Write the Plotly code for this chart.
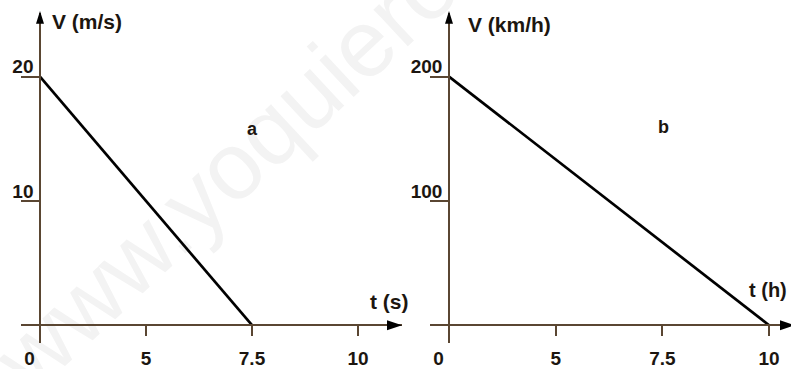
import plotly.graph_objects as go

W, H = 791, 369

# tick marks are equally spaced in the original drawing
tick_values = [0, 5, 7.5, 10]
tick_text = ["0\u00a0\u00a0\u00a0\u00a0", "5", "7.5", "10"]

t_a = [0, 7.5]
v_a = [20, 0]
yticks_a = [10, 20]

t_b = [0, 10]
v_b = [200, 0]
yticks_b = [100, 200]

AXIS = "#5a4632"
INK = "#1c1610"
FONT = "Liberation Sans, Arial, sans-serif"


def px(x):
    return x / W


def py(y):
    return 1 - y / H


def tri(points):
    return "M " + " L ".join("%.5f,%.5f" % (px(x), py(y)) for x, y in points) + " Z"


fig = go.Figure()
fig.add_trace(go.Scatter(x=[tick_values.index(t) for t in t_a], y=v_a, mode="lines",
                         line=dict(color="black", width=2.7), xaxis="x", yaxis="y"))
fig.add_trace(go.Scatter(x=[tick_values.index(t) for t in t_b], y=v_b, mode="lines",
                         line=dict(color="black", width=2.7), xaxis="x2", yaxis="y2"))

tickfont = dict(family=FONT, size=19, color=INK, weight="bold")
xcommon = dict(tickvals=list(range(len(tick_values))), ticktext=tick_text,
               ticks="outside", ticklen=10, tickwidth=1.5, tickcolor=AXIS,
               showline=True, linecolor=AXIS, linewidth=1.5, showgrid=False,
               zeroline=False, tickfont=tickfont, anchor="free", position=py(327),
               ticklabelstandoff=6, fixedrange=True)
ycommon = dict(ticks="outside", ticklen=18, tickwidth=1.5, tickcolor=AXIS,
               showline=True, linecolor=AXIS, linewidth=1.5, showgrid=False,
               zeroline=False, tickfont=tickfont, anchor="free",
               domain=[py(345), py(13)], ticklabelshift=-10, ticklabelstandoff=-16,
               fixedrange=True)

fig.update_layout(
    width=W, height=H,
    margin=dict(l=0, r=0, t=0, b=0),
    paper_bgcolor="white", plot_bgcolor="rgba(0,0,0,0)",
    showlegend=False,
    xaxis=dict(domain=[px(21), px(402)], range=[-0.179, 3.415], **xcommon),
    yaxis=dict(range=[-1.44, 25.12], tickvals=yticks_a, position=px(40), **ycommon),
    xaxis2=dict(domain=[px(430), 1], range=[-0.178, 3.205], **xcommon),
    yaxis2=dict(range=[-14.4, 251.2], tickvals=yticks_b, position=px(449), **ycommon),
)

# faint watermark, kept below the data
shapes = [dict(type="rect", xref="paper", yref="paper", layer="below",
               x0=px(334), x1=px(434), y0=py(-39), y1=py(61),
               line_width=0, fillcolor="rgba(0,0,0,0)",
               label=dict(text="www.yoquieroaprobar.es", textangle=-43,
                          textposition="middle center",
                          font=dict(family=FONT, size=95, color="#f3f3f3")))]

# arrow heads at the ends of the axes
for x0, x_end in [(40, 402), (449, 795)]:
    shapes.append(dict(type="path", xref="paper", yref="paper", line_width=0, fillcolor="black",
                       path=tri([(x0, 11), (x0 - 4, 24), (x0 + 4, 24)])))
    shapes.append(dict(type="path", xref="paper", yref="paper", line_width=0, fillcolor="black",
                       path=tri([(x_end, 327), (x_end - 15, 322), (x_end - 15, 332)])))
fig.update_layout(shapes=shapes)

labfont = dict(family=FONT, size=21, color=INK, weight="bold")
notes = [
    ("V (m/s)", 50, 22, "left", 21),
    ("V (km/h)", 466, 25, "left", 21),
    ("t (s)", 368, 303, "left", 21),
    ("t (h)", 747, 292, "left", 20),
    ("a", 252, 130, "center", 18),
    ("b", 663, 128, "center", 18),
]
annotations = []
for txt, x, y, anc, size in notes:
    annotations.append(dict(text=txt, x=px(x), y=py(y), xref="paper", yref="paper",
                            showarrow=False, xanchor=anc, yanchor="middle",
                            font=dict(labfont, size=size)))
fig.update_layout(annotations=annotations)

fig.write_html("out.html", config={"displayModeBar": False},
               post_script="document.body.style.margin='0';")
